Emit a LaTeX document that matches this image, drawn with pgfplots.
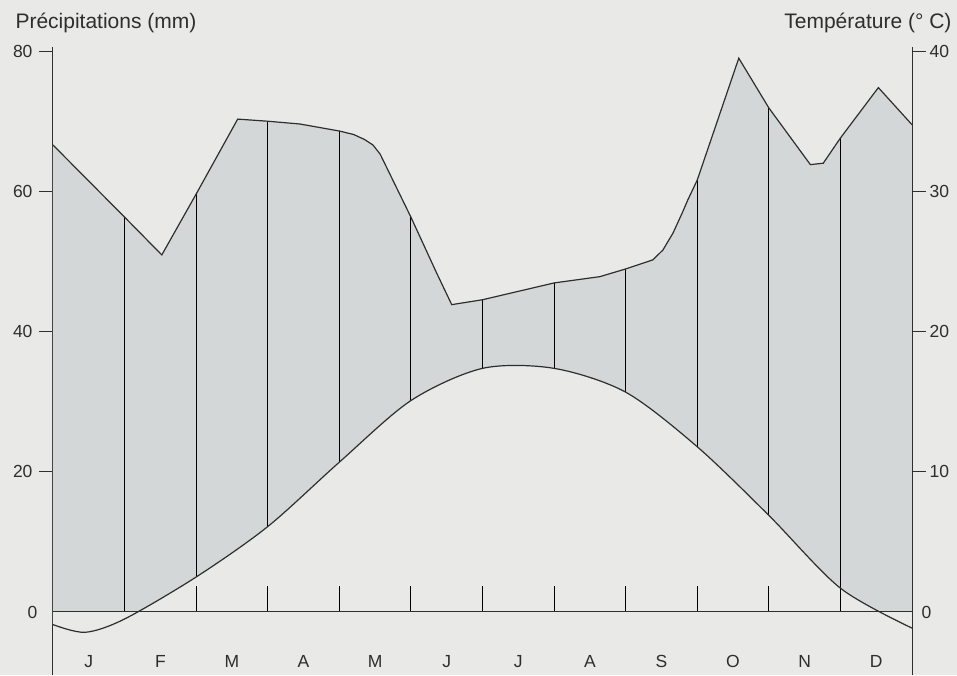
\documentclass[border=0pt]{standalone}
\usepackage{fontspec}
\setmainfont{Liberation Sans}
\usepackage{pgfplots}
\usepackage{pgfplotstable}
\pgfplotsset{compat=1.18}
\definecolor{paper}{HTML}{E9E9E7}
\definecolor{shade}{HTML}{D3D7D7}
\definecolor{ink}{HTML}{2E2E2E}
\definecolor{grid}{HTML}{4A4A4A}

% precipitation (mm), x in months (0 = start of January, 12 = end of December)
\pgfplotstableread{
x p
0 66.7
1 56.4
1.52 51.0
2 59.7
2.58 70.4
3 70.1
3.45 69.7
4 68.7
4.2 68.2
4.35 67.5
4.47 66.7
4.57 65.4
5 56.4
5.36 48.4
5.57 43.9
6 44.6
7 47.0
7.64 47.9
8 49.0
8.38 50.3
8.52 51.7
8.66 54.1
8.79 57.0
8.87 58.9
9 61.7
9.58 79.1
10 72.0
10.58 63.9
10.76 64.1
11 67.7
11.53 74.9
12 69.6
}\precip

% temperature (deg C)
\pgfplotstableread{
x t
0 -0.9
0.45 -1.45
1 -0.5
2 2.5
3 6.1
4 10.7
5 15.1
6 17.4
7 17.4
8 15.7
9 11.8
10 6.9
11 1.7
12 -1.15
}\temp

% month boundary lines (mm)
\pgfplotstableread{
x y
1 0
1 56.4
1 nan
2 0
2 3.7
2 nan
2 5.0
2 59.7
2 nan
3 0
3 3.7
3 nan
3 12.2
3 70.1
3 nan
4 0
4 3.7
4 nan
4 21.4
4 68.7
4 nan
5 0
5 3.7
5 nan
5 30.2
5 56.4
5 nan
6 0
6 3.7
6 nan
6 34.8
6 44.6
6 nan
7 0
7 3.7
7 nan
7 34.8
7 47.0
7 nan
8 0
8 3.7
8 nan
8 31.4
8 49.0
8 nan
9 0
9 3.7
9 nan
9 23.6
9 61.7
9 nan
10 0
10 3.7
10 nan
10 13.8
10 72.0
10 nan
11 0
11 67.7
}\bounds

\begin{document}
\begin{tikzpicture}
\useasboundingbox (-53pt,0pt) rectangle (904pt,675pt);
\fill[paper] (-53pt,0pt) rectangle (904pt,675pt);
\node[anchor=base west, font=\fontsize{21}{24}\selectfont, text=ink] at (-41pt,646pt) {Précipitations (mm)};
\node[anchor=base east, font=\fontsize{21}{24}\selectfont, text=ink] at (902pt,646pt) {Température (° C)};
\begin{axis}[
  at={(0pt,0pt)}, anchor=south west,
  width=859pt, height=628pt, scale only axis,
  xmin=0, xmax=12, ymin=-9, ymax=80.7,
  axis y line*=left, axis x line*=bottom,
  x axis line style={draw=none},
  y axis line style={draw=ink, line width=1pt},
  xtick={0.5,1.5,...,11.5},
  xticklabels={J,F,M,A,M,J,J,A,S,O,N,D},
  major x tick style={draw=none},
  xticklabel style={anchor=base, yshift=22pt},
  ytick={20,40,60,80},
  extra y ticks={0},
  extra y tick style={major tick length=0pt, yticklabel style={xshift=-9pt}},
  tick align=outside, major tick length=14pt,
  major y tick style={draw=ink, line width=1pt},
  yticklabel style={xshift=-3pt},
  ticklabel style={font=\fontsize{17.5}{20}\selectfont, text=ink},
  /pgf/number format/assume math mode=true,
  clip=false,
]
\addplot[draw=none, fill=shade] table[x=x, y=p] {\precip} \closedcycle;
\addplot[draw=none, fill=paper, smooth] table[x=x, y expr=2*\thisrow{t}] {\temp} \closedcycle;
\addplot[grid, line width=0.9pt, unbounded coords=jump] table[x=x, y=y] {\bounds};
\addplot[ink, line width=1.2pt] table[x=x, y=p] {\precip};
\addplot[ink, line width=1.2pt, smooth] table[x=x, y expr=2*\thisrow{t}] {\temp};
\draw[ink, line width=1pt] (axis cs:0,0) -- (axis cs:12,0);
\end{axis}
\begin{axis}[
  at={(0pt,0pt)}, anchor=south west,
  width=859pt, height=628pt, scale only axis,
  xmin=0, xmax=12, ymin=-4.5, ymax=40.35,
  axis y line*=right, axis x line=none,
  y axis line style={draw=ink, line width=1pt},
  ytick={10,20,30,40},
  extra y ticks={0},
  extra y tick style={major tick length=0pt, yticklabel style={xshift=6pt}},
  tick align=outside, major tick length=14pt,
  major y tick style={draw=ink, line width=1pt},
  ticklabel style={font=\fontsize{17.5}{20}\selectfont, text=ink},
  /pgf/number format/assume math mode=true,
]
\addplot[draw=none, smooth] table[x=x, y=t] {\temp};
\end{axis}
\end{tikzpicture}
\end{document}
